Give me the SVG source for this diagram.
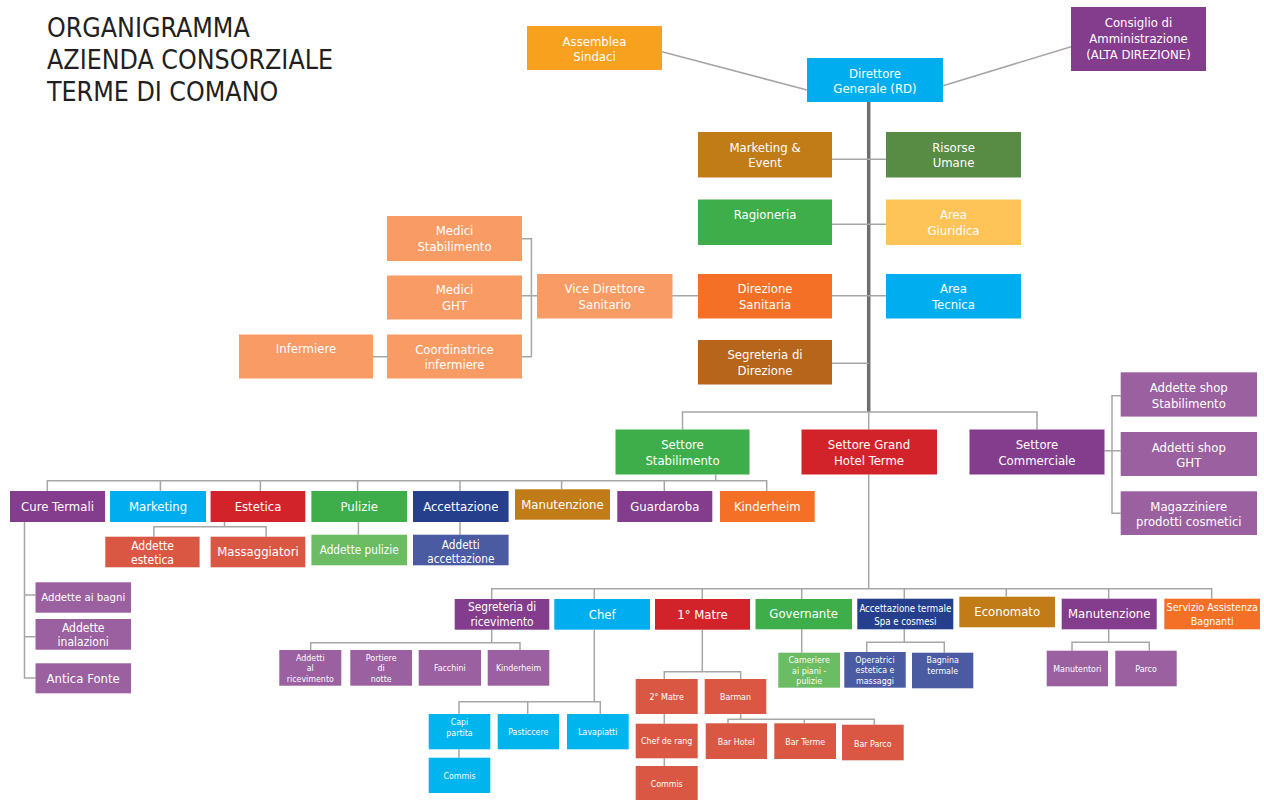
<svg xmlns="http://www.w3.org/2000/svg" width="1264" height="801" viewBox="0 0 1264 801">
<style>
text{font-family:'DejaVu Sans Condensed','DejaVu Sans',sans-serif;font-stretch:condensed}
.t{fill:#fff;text-anchor:middle;font-size:13px}
.s12{font-size:12px}.s117{font-size:11.7px}.s113{font-size:11.3px}.s118{font-size:11.8px}
.s96{font-size:9.6px}.s106{font-size:10.6px}.s9{font-size:8.8px}
.title{fill:#231F20;font-size:26.5px}
.c{fill:none;stroke:#A6A6A6;stroke-width:1.5}
.trunk{fill:none;stroke:#6E6E6E;stroke-width:3.5}
</style>
<rect width="1264" height="801" fill="#fff"/>
<g id="title">
<text class="title" x="47" y="37.3">ORGANIGRAMMA</text>
<text class="title" x="47" y="69.3">AZIENDA CONSORZIALE</text>
<text class="title" x="47" y="101">TERME DI COMANO</text>
</g>
<g id="connectors">
<path class="c" d="M662,51.7 L807,90 M943,85.7 L1071,46.7"/>
<path class="trunk" d="M868.7,102 V412"/>
<path class="c" d="M832,159.3 H886 M832,224.3 H886 M672,295.7 H698 M832,295.7 H886 M832,363.3 H868.7"/>
<path class="c" d="M522,238.7 H531.4 V356.7 H522 M522,295.7 H537 M373,356.7 H387"/>
<path class="c" d="M682.5,429.5 V412 H1037 V429.5 M868.7,412 V429.5"/>
<path class="c" d="M1104.5,450.7 H1120.7 M1120.7,395.7 H1112 V513.3 H1120.7"/>
<path class="c" d="M715.7,474.5 V480.7 M47.3,491 V480.7 H766.7 V491 M160.4,480.7 V491 M260.4,480.7 V491 M357.6,480.7 V491 M460,480.7 V491 M561.6,480.7 V489.3 M664.3,480.7 V491"/>
<path class="c" d="M224.5,522 V526.7 M153.9,536.7 V526.7 H266.1 V536.7 M358.4,522 V534.7 M460,522 V534.7"/>
<path class="c" d="M24.5,522 V678 H35.5 M24.5,595 H35.5 M24.5,636.7 H35.5"/>
<path class="c" d="M868.7,474.5 V588.7 M491.7,599 V588.7 H1211.7 V598.7 M594.3,588.7 V599 M702.3,588.7 V599 M801.7,588.7 V599 M904.3,588.7 V598.7 M1006.3,588.7 V596.7 M1108.7,588.7 V598.7"/>
<path class="c" d="M491.7,629.7 V642.7 M310.7,650 V642.7 H520 V650"/>
<path class="c" d="M594.3,629.7 V701.7 M459,714 V701.7 H600.3 V714 M527.7,701.7 V714 M459,749.3 V757.7"/>
<path class="c" d="M702.3,629.7 V671.7 M664.3,679 V671.7 H740.7 V679 M664.3,714 V723.7 M664.3,758.3 V766 M740.7,714 V719.3 M728,723.3 V719.3 H874.3 V724.7 M804.3,719.3 V723.3"/>
<path class="c" d="M801.7,629.3 V652.7 M904.3,629.3 V642.3 M866.7,652 V642.3 H944.3 V652.7 M1108.7,629.3 V642.3 M1072,650.7 V642.3 H1149.3 V650.7"/>
</g>
<g id="assemblea"><rect x="527" y="26" width="135" height="44" fill="#F7A11E"/><text class="t"><tspan x="594.5" y="45.5">Assemblea</tspan><tspan x="594.5" y="61">Sindaci</tspan></text></g>
<g id="direttore"><rect x="807" y="58" width="136" height="44" fill="#00AEEF"/><text class="t"><tspan x="875" y="77.5">Direttore</tspan><tspan x="875" y="93">Generale (RD)</tspan></text></g>
<g id="consiglio"><rect x="1071" y="7" width="135" height="64" fill="#843C8C"/><text class="t"><tspan x="1138.5" y="26.5">Consiglio di</tspan><tspan x="1138.5" y="42.5">Amministrazione</tspan><tspan x="1138.5" y="58.5">(ALTA DIREZIONE)</tspan></text></g>
<g id="marketing-event"><rect x="698" y="132" width="134" height="45.5" fill="#C27C17"/><text class="t"><tspan x="765" y="151.7">Marketing &amp;</tspan><tspan x="765" y="167.3">Event</tspan></text></g>
<g id="risorse-umane"><rect x="886" y="132" width="135" height="45.5" fill="#588B43"/><text class="t"><tspan x="953.5" y="151.7">Risorse</tspan><tspan x="953.5" y="167.3">Umane</tspan></text></g>
<g id="ragioneria"><rect x="698" y="199.5" width="134" height="45.5" fill="#3DAE4A"/><text class="t" x="765" y="219.3">Ragioneria</text></g>
<g id="area-giuridica"><rect x="886" y="199.5" width="135" height="45.5" fill="#FEC458"/><text class="t"><tspan x="953.5" y="219.3">Area</tspan><tspan x="953.5" y="235">Giuridica</tspan></text></g>
<g id="direzione-sanitaria"><rect x="698" y="274" width="134" height="44.5" fill="#F37026"/><text class="t"><tspan x="765" y="293">Direzione</tspan><tspan x="765" y="308.8">Sanitaria</tspan></text></g>
<g id="area-tecnica"><rect x="886" y="274" width="135" height="44.5" fill="#00AEEF"/><text class="t"><tspan x="953.5" y="293">Area</tspan><tspan x="953.5" y="308.8">Tecnica</tspan></text></g>
<g id="vice-direttore"><rect x="537" y="274" width="135.5" height="44.5" fill="#F89B64"/><text class="t"><tspan x="604.7" y="293">Vice Direttore</tspan><tspan x="604.7" y="308.8">Sanitario</tspan></text></g>
<g id="segreteria-direzione"><rect x="698" y="340" width="134" height="44.5" fill="#B7651A"/><text class="t"><tspan x="765" y="359.3">Segreteria di</tspan><tspan x="765" y="375">Direzione</tspan></text></g>
<g id="medici-stabilimento"><rect x="387" y="216" width="135" height="45" fill="#F89B64"/><text class="t"><tspan x="454.5" y="235">Medici</tspan><tspan x="454.5" y="251">Stabilimento</tspan></text></g>
<g id="medici-ght"><rect x="387" y="275.5" width="135" height="44" fill="#F89B64"/><text class="t"><tspan x="454.5" y="294">Medici</tspan><tspan x="454.5" y="310">GHT</tspan></text></g>
<g id="coordinatrice"><rect x="387" y="334.5" width="135" height="44" fill="#F89B64"/><text class="t"><tspan x="454.5" y="353.5">Coordinatrice</tspan><tspan x="454.5" y="369">infermiere</tspan></text></g>
<g id="infermiere"><rect x="239" y="334.5" width="134" height="44" fill="#F89B64"/><text class="t" x="306" y="353.3">Infermiere</text></g>
<g id="settore-stabilimento"><rect x="615.5" y="429.5" width="134" height="45" fill="#3DAE4A"/><text class="t"><tspan x="682.5" y="449">Settore</tspan><tspan x="682.5" y="464.8">Stabilimento</tspan></text></g>
<g id="settore-hotel"><rect x="801.5" y="429.5" width="135.5" height="45" fill="#D2232A"/><text class="t"><tspan x="869" y="449">Settore Grand</tspan><tspan x="869" y="464.8">Hotel Terme</tspan></text></g>
<g id="settore-commerciale"><rect x="969.5" y="429.5" width="135" height="45" fill="#843C8C"/><text class="t"><tspan x="1037" y="449">Settore</tspan><tspan x="1037" y="464.8">Commerciale</tspan></text></g>
<g id="shop-stabilimento"><rect x="1120.7" y="372.3" width="136.3" height="44.3" fill="#9A60A0"/><text class="t"><tspan x="1188.8" y="392">Addette shop</tspan><tspan x="1188.8" y="407.5">Stabilimento</tspan></text></g>
<g id="shop-ght"><rect x="1120.7" y="432" width="136.3" height="44" fill="#9A60A0"/><text class="t"><tspan x="1188.8" y="451.5">Addetti shop</tspan><tspan x="1188.8" y="467">GHT</tspan></text></g>
<g id="magazziniere"><rect x="1120.7" y="491.3" width="136.3" height="43.7" fill="#9A60A0"/><text class="t"><tspan x="1188.8" y="510.5">Magazziniere</tspan><tspan x="1188.8" y="526">prodotti cosmetici</tspan></text></g>
<g id="cure-termali"><rect x="10" y="491" width="95" height="31" fill="#843C8C"/><text class="t" x="57.5" y="510.8">Cure Termali</text></g>
<g id="marketing"><rect x="110" y="491" width="96" height="31" fill="#00AEEF"/><text class="t" x="158" y="510.8">Marketing</text></g>
<g id="estetica"><rect x="210.6" y="491" width="94.7" height="31" fill="#D2232A"/><text class="t" x="258" y="510.8">Estetica</text></g>
<g id="pulizie"><rect x="311.4" y="491" width="95.6" height="31" fill="#3DAE4A"/><text class="t" x="359.2" y="510.8">Pulizie</text></g>
<g id="accettazione"><rect x="413" y="491" width="95.6" height="31" fill="#253F8D"/><text class="t" x="460.8" y="510.8">Accettazione</text></g>
<g id="manutenzione-stabilimento"><rect x="515" y="489.3" width="95" height="30.4" fill="#C27C17"/><text class="t" x="562.5" y="508.8">Manutenzione</text></g>
<g id="guardaroba"><rect x="617.3" y="491" width="95" height="31" fill="#843C8C"/><text class="t" x="664.8" y="510.8">Guardaroba</text></g>
<g id="kinderheim-stabilimento"><rect x="720" y="491" width="94.7" height="31" fill="#F37026"/><text class="t" x="767.3" y="510.8">Kinderheim</text></g>
<g id="addette-estetica"><rect x="105.3" y="536.7" width="94.3" height="30.6" fill="#DA5843"/><text class="t s12"><tspan x="152.5" y="549.5">Addette</tspan><tspan x="152.5" y="563.8">estetica</tspan></text></g>
<g id="massaggiatori"><rect x="210.6" y="536.7" width="94.7" height="30.6" fill="#DA5843"/><text class="t" x="258" y="555.5">Massaggiatori</text></g>
<g id="addette-pulizie"><rect x="311.4" y="534.7" width="95.6" height="30.6" fill="#6BBC63"/><text class="t s117" x="359.2" y="553.8">Addette pulizie</text></g>
<g id="addetti-accettazione"><rect x="413" y="534.7" width="95.6" height="30.6" fill="#4A5BA2"/><text class="t s117"><tspan x="460.8" y="549">Addetti</tspan><tspan x="460.8" y="563.3">accettazione</tspan></text></g>
<g id="addette-bagni"><rect x="35.5" y="582.3" width="95.5" height="30.4" fill="#9A60A0"/><text class="t s113" x="83.2" y="601">Addette ai bagni</text></g>
<g id="addette-inalazioni"><rect x="35.5" y="619" width="95.5" height="30.7" fill="#9A60A0"/><text class="t s12"><tspan x="83.2" y="631.8">Addette</tspan><tspan x="83.2" y="646">inalazioni</tspan></text></g>
<g id="antica-fonte"><rect x="35.5" y="663.3" width="95.5" height="30" fill="#9A60A0"/><text class="t" x="83.2" y="682.6">Antica Fonte</text></g>
<g id="segreteria-ricevimento"><rect x="454.7" y="599" width="94.6" height="30.7" fill="#843C8C"/><text class="t s118"><tspan x="502" y="610.8">Segreteria di</tspan><tspan x="502" y="625.5">ricevimento</tspan></text></g>
<g id="chef"><rect x="554.3" y="599" width="95.7" height="30.7" fill="#00AEEF"/><text class="t" x="602.2" y="618.5">Chef</text></g>
<g id="matre1"><rect x="655" y="599" width="95" height="30.7" fill="#D2232A"/><text class="t" x="702.5" y="618.5">1° Matre</text></g>
<g id="governante"><rect x="755.5" y="599" width="96.5" height="30.3" fill="#3DAE4A"/><text class="t" x="803.7" y="618.3">Governante</text></g>
<g id="accettazione-termale"><rect x="857.3" y="598.7" width="96" height="30.6" fill="#253F8D"/><text class="t s96"><tspan x="905.3" y="612.3">Accettazione termale</tspan><tspan x="905.3" y="625.3">Spa e cosmesi</tspan></text></g>
<g id="economato"><rect x="959.3" y="596.7" width="95.7" height="30.6" fill="#C27C17"/><text class="t" x="1007.2" y="616.3">Economato</text></g>
<g id="manutenzione-hotel"><rect x="1061.7" y="598.7" width="95" height="30.6" fill="#843C8C"/><text class="t" x="1109.2" y="618">Manutenzione</text></g>
<g id="servizio-assistenza"><rect x="1164.3" y="598.7" width="95.7" height="30.6" fill="#F37026"/><text class="t s106"><tspan x="1212.2" y="610.5">Servizio Assistenza</tspan><tspan x="1212.2" y="624.5">Bagnanti</tspan></text></g>
<g id="addetti-ricevimento"><rect x="279.3" y="650" width="62" height="35.7" fill="#9A60A0"/><text class="t s9"><tspan x="310.3" y="660.5">Addetti</tspan><tspan x="310.3" y="671.3">al</tspan><tspan x="310.3" y="682">ricevimento</tspan></text></g>
<g id="portiere"><rect x="350.3" y="650" width="61.7" height="35.7" fill="#9A60A0"/><text class="t s9"><tspan x="381.2" y="660.5">Portiere</tspan><tspan x="381.2" y="671.3">di</tspan><tspan x="381.2" y="682">notte</tspan></text></g>
<g id="facchini"><rect x="418.7" y="650" width="62.3" height="35.7" fill="#9A60A0"/><text class="t s9" x="449.8" y="671">Facchini</text></g>
<g id="kinderheim-hotel"><rect x="487.7" y="650" width="61.6" height="35.7" fill="#9A60A0"/><text class="t s9" x="518.5" y="671">Kinderheim</text></g>
<g id="capi-partita"><rect x="428.7" y="714" width="61.6" height="35.3" fill="#00B4EE"/><text class="t s9"><tspan x="459.5" y="724.8">Capi</tspan><tspan x="459.5" y="735.5">partita</tspan></text></g>
<g id="pasticcere"><rect x="497.7" y="714" width="61.3" height="35.3" fill="#00B4EE"/><text class="t s9" x="528.3" y="734.8">Pasticcere</text></g>
<g id="lavapiatti"><rect x="567" y="714" width="61.7" height="35.3" fill="#00B4EE"/><text class="t s9" x="597.8" y="734.8">Lavapiatti</text></g>
<g id="commis-chef"><rect x="428.7" y="757.7" width="61.6" height="35.3" fill="#00B4EE"/><text class="t s9" x="459.5" y="778.5">Commis</text></g>
<g id="matre2"><rect x="635.7" y="679" width="62" height="35" fill="#DA5843"/><text class="t s9" x="666.7" y="700.3">2° Matre</text></g>
<g id="barman"><rect x="704.7" y="679" width="61.6" height="35" fill="#DA5843"/><text class="t s9" x="735.5" y="700.3">Barman</text></g>
<g id="chef-de-rang"><rect x="635.7" y="723.7" width="62" height="34.6" fill="#DA5843"/><text class="t s9" x="666.7" y="744">Chef de rang</text></g>
<g id="commis-sala"><rect x="635.7" y="766" width="62" height="34" fill="#DA5843"/><text class="t s9" x="666.7" y="787.3">Commis</text></g>
<g id="bar-hotel"><rect x="705.7" y="723.3" width="61.3" height="35.7" fill="#DA5843"/><text class="t s9" x="736.3" y="745">Bar Hotel</text></g>
<g id="bar-terme"><rect x="774.3" y="723.3" width="61.7" height="35.7" fill="#DA5843"/><text class="t s9" x="805.2" y="745">Bar Terme</text></g>
<g id="bar-parco"><rect x="842" y="724.7" width="61.7" height="35.6" fill="#DA5843"/><text class="t s9" x="872.8" y="746.5">Bar Parco</text></g>
<g id="cameriere"><rect x="778.3" y="652.7" width="61.7" height="35" fill="#6BBC63"/><text class="t s9"><tspan x="809.2" y="663.3">Cameriere</tspan><tspan x="809.2" y="673.7">ai piani -</tspan><tspan x="809.2" y="684">pulizie</tspan></text></g>
<g id="operatrici"><rect x="844.3" y="652" width="61.4" height="35.7" fill="#4A5BA2"/><text class="t s9"><tspan x="875" y="663">Operatrici</tspan><tspan x="875" y="673.3">estetica e</tspan><tspan x="875" y="683.5">massaggi</tspan></text></g>
<g id="bagnina"><rect x="912" y="652.7" width="61.3" height="35.6" fill="#4A5BA2"/><text class="t s9"><tspan x="942.7" y="663.3">Bagnina</tspan><tspan x="942.7" y="673.7">termale</tspan></text></g>
<g id="manutentori"><rect x="1046.7" y="650.7" width="61.3" height="35.6" fill="#9A60A0"/><text class="t s9" x="1077.3" y="672">Manutentori</text></g>
<g id="parco"><rect x="1115.3" y="650.7" width="61.4" height="35.6" fill="#9A60A0"/><text class="t s9" x="1146" y="672">Parco</text></g>
</svg>
